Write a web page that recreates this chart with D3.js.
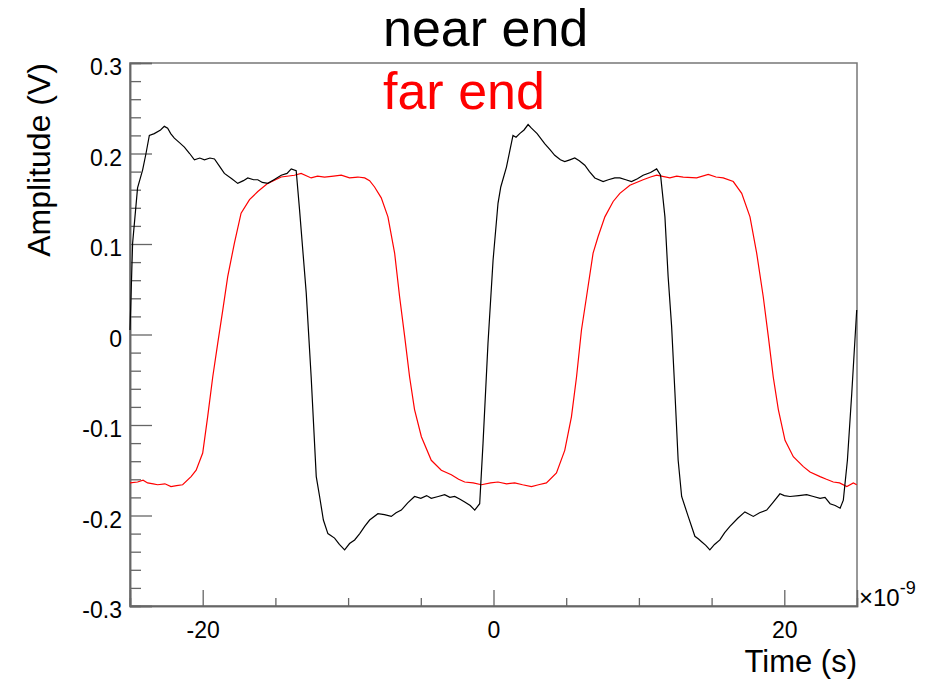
<!DOCTYPE html>
<html>
<head>
<meta charset="utf-8">
<script src="https://cdn.jsdelivr.net/npm/d3@7"></script>
<style>
  body { margin: 0; background: #fff; }
  svg { display: block; font-family: "Liberation Sans", Arial, Helvetica, sans-serif; }
</style>
</head>
<body>
<svg id="chart" width="926" height="686"></svg>
<script>
// time in ns (axis shows x10^-9 s), amplitude in V
const nearTime = [-25.0, -24.82, -24.48, -24.13, -23.9, -23.67, -23.33, -22.9, -22.64, -22.41, -22.2, -21.95, -21.6, -21.26, -20.9, -20.57, -20.2, -19.88, -19.5, -19.19, -18.85, -18.51, -18.0, -17.59, -17.2, -16.9, -16.5, -16.21, -15.9, -15.52, -15.1, -14.6, -14.2, -13.91, -13.57,
  -13.34, -12.88, -12.54, -12.19, -11.96, -11.7, -11.39, -10.93, -10.6, -10.24, -9.9, -9.55, -9.2, -8.86, -8.52, -7.95, -7.5, -7.03, -6.7, -6.34, -5.9, -5.43, -5.0, -4.6, -4.28, -3.8, -3.36, -3.0, -2.67, -2.3, -1.98, -1.6, -1.29, -0.95,
  -0.72, -0.38, -0.03, 0.31, 0.5, 0.89, 1.34, 1.55, 1.8, 2.1, 2.38, 2.61, 3.0, 3.52, 3.9, 4.21, 4.6, 4.9, 5.25, 5.59, 5.9, 6.28, 6.6, 6.97, 7.54, 7.9, 8.34, 8.69, 9.1, 9.49, 9.9, 10.29, 10.8, 11.22, 11.49,
  11.79, 12.01, 12.25, 12.48, 12.7, 12.94, 13.39, 13.85, 14.1, 14.31, 14.6, 14.88, 15.2, 15.57, 15.9, 16.26, 16.8, 17.29, 17.87, 18.3, 18.79, 19.2, 19.7, 20.0, 20.39, 21.0, 21.54, 22.0, 22.46, 22.8, 23.15, 23.5, 23.84, 24.06,
  24.34, 24.64, 24.98];
const nearAmp = [0.005, 0.101, 0.162, 0.182, 0.2, 0.22, 0.222, 0.226, 0.23, 0.228, 0.222, 0.217, 0.212, 0.207, 0.2, 0.193, 0.195, 0.193, 0.195, 0.194, 0.186, 0.178, 0.172, 0.167, 0.17, 0.173, 0.171, 0.171, 0.168, 0.167, 0.171, 0.176, 0.178, 0.183, 0.181,
  0.138, 0.046, -0.047, -0.157, -0.179, -0.205, -0.22, -0.225, -0.232, -0.238, -0.231, -0.227, -0.22, -0.212, -0.205, -0.198, -0.199, -0.201, -0.197, -0.194, -0.186, -0.179, -0.181, -0.178, -0.181, -0.179, -0.177, -0.18, -0.179, -0.182, -0.185, -0.189, -0.194, -0.187,
  -0.12, -0.01, 0.082, 0.145, 0.163, 0.185, 0.22, 0.218, 0.222, 0.226, 0.232, 0.228, 0.222, 0.211, 0.204, 0.198, 0.193, 0.191, 0.193, 0.195, 0.192, 0.187, 0.18, 0.173, 0.169, 0.171, 0.173, 0.173, 0.171, 0.169, 0.172, 0.176, 0.179, 0.183, 0.176,
  0.13, 0.064, 0.009, -0.065, -0.139, -0.179, -0.201, -0.223, -0.226, -0.229, -0.233, -0.238, -0.232, -0.227, -0.219, -0.212, -0.203, -0.196, -0.201, -0.197, -0.194, -0.186, -0.176, -0.178, -0.179, -0.178, -0.177, -0.179, -0.181, -0.18, -0.187, -0.189, -0.192, -0.183,
  -0.139, -0.065, 0.027];

const farTime = [-25.0, -24.48, -24.1, -23.79, -23.4, -23.1, -22.6, -22.18, -21.8, -21.38, -20.8, -20.45, -20.0, -19.66, -19.31, -18.97, -18.62, -18.28, -17.82, -17.36, -16.78, -16.21, -15.52, -14.6, -13.69, -13.23, -12.54, -12.1, -11.62, -11.0, -10.47, -9.9, -9.33, -8.86, -8.52,
  -8.18, -7.72, -7.26, -6.8, -6.46, -6.11, -5.77, -5.43, -4.96, -4.28, -3.59, -2.9, -2.4, -1.98, -1.4, -0.83, -0.2, 0.31, 0.9, 1.46, 2.0, 2.61, 3.1, 3.64, 4.33, 4.9, 5.36, 5.71, 6.05, 6.4, 6.85, 7.19, 7.66, 8.23, 8.69, 9.38, 10.29, 10.8, 11.22, 12.13, 12.6, 13.05, 13.97, 14.77, 15.3, 15.8, 16.49,
  17.07, 17.64, 18.1, 18.55, 18.9, 19.24, 19.59, 20.05, 20.62, 21.31, 21.77, 22.46, 22.9, 23.37, 23.8, 24.3, 24.75, 24.98];
const farAmp = [-0.164, -0.163, -0.161, -0.164, -0.165, -0.166, -0.165, -0.168, -0.167, -0.166, -0.157, -0.15, -0.131, -0.091, -0.047, -0.01, 0.027, 0.064, 0.101, 0.134, 0.149, 0.158, 0.167, 0.174, 0.176, 0.178, 0.173, 0.175, 0.174, 0.175, 0.176, 0.173, 0.174, 0.173, 0.17,
  0.163, 0.151, 0.13, 0.09, 0.042, -0.002, -0.047, -0.083, -0.113, -0.139, -0.15, -0.155, -0.16, -0.163, -0.164, -0.166, -0.164, -0.163, -0.165, -0.164, -0.166, -0.168, -0.166, -0.164, -0.153, -0.128, -0.091, -0.047, 0.005, 0.042, 0.09, 0.108, 0.13, 0.147, 0.156, 0.165, 0.171, 0.174, 0.176, 0.173, 0.175, 0.174, 0.173, 0.177, 0.174, 0.173, 0.169,
  0.156, 0.13, 0.09, 0.042, -0.002, -0.047, -0.083, -0.117, -0.135, -0.146, -0.152, -0.157, -0.16, -0.163, -0.164, -0.168, -0.164, -0.166];

const xMajor = [-20, 0, 20];
const xMinor = [-15, -10, -5, 5, 10, 15];
const yMajor = [0.3, 0.2, 0.1, 0, -0.1, -0.2, -0.3];

const svg = d3.select("#chart");
const frameLeft = 130, frameRight = 857, frameTop = 63, frameBottom = 606;

const x = d3.scaleLinear().domain([-25, 25]).range([frameLeft, frameRight]);
const y = d3.scaleLinear().domain([-0.3, 0.3]).range([frameBottom, frameTop]);

const yMinor = d3.range(-0.3, 0.3001, 0.02).map(d => +d.toFixed(2)).filter(d => !yMajor.includes(d));
const fmt = d => d === 0 ? "0" : String(+d.toFixed(1));

// frame
svg.append("rect")
   .attr("x", frameLeft).attr("y", frameTop)
   .attr("width", frameRight - frameLeft).attr("height", frameBottom - frameTop)
   .attr("fill", "none").attr("stroke", "#777").attr("stroke-width", 1.5);

// axes: minor and major ticks in their own groups, ticks pointing inward
svg.append("g").attr("class", "ax").attr("transform", `translate(${frameLeft},0)`)
   .call(d3.axisLeft(y).tickValues(yMinor).tickSize(-11).tickFormat(""));
const gy = svg.append("g").attr("class", "ax").attr("transform", `translate(${frameLeft},0)`)
   .call(d3.axisLeft(y).tickValues(yMajor).tickSize(-22).tickPadding(8).tickFormat(fmt));

svg.append("g").attr("class", "ax").attr("transform", `translate(0,${frameBottom})`)
   .call(d3.axisBottom(x).tickValues(xMinor).tickSize(-8).tickFormat(""));
svg.append("g").attr("class", "ax").attr("transform", `translate(0,${frameBottom})`)
   .call(d3.axisBottom(x).tickValues(xMajor).tickSize(-16).tickPadding(16).tickFormat(fmt));

svg.selectAll(".ax .domain").attr("stroke", "#666").attr("stroke-width", 1.5);
svg.selectAll(".ax .tick line").attr("stroke", "#666").attr("stroke-width", 1.3);
svg.selectAll(".ax .tick text").attr("font-size", 23).attr("fill", "#000")
   .attr("font-family", "Liberation Sans, Arial, sans-serif");
gy.selectAll(".tick text").attr("dy", "0.5em");

// curves
const line = d3.line().x(d => x(d[0])).y(d => y(d[1]));
const farData = farTime.map((t, i) => [t, farAmp[i]]);
const nearData = nearTime.map((t, i) => [t, nearAmp[i]]);

svg.append("path").datum(farData)
   .attr("d", line).attr("fill", "none").attr("stroke", "#ff0000").attr("stroke-width", 1.2);
svg.append("path").datum(nearData)
   .attr("d", line).attr("fill", "none").attr("stroke", "#000").attr("stroke-width", 1.2);

// titles
svg.append("text").attr("x", 383).attr("y", 46)
   .attr("font-size", 52).attr("fill", "#000").text("near end");
svg.append("text").attr("x", 383).attr("y", 109)
   .attr("font-size", 52).attr("fill", "#ff0000").text("far end");

svg.append("text")
   .attr("transform", "translate(50,63) rotate(-90)")
   .attr("text-anchor", "end").attr("font-size", 32).text("Amplitude (V)");
svg.append("text").attr("x", 857).attr("y", 672)
   .attr("text-anchor", "end").attr("font-size", 31).text("Time (s)");

const mult = svg.append("text").attr("x", 859).attr("y", 606).attr("font-size", 24);
mult.append("tspan").text("\u00d710");
mult.append("tspan").attr("dy", -12).attr("font-size", 18).text("-9");
</script>
</body>
</html>
